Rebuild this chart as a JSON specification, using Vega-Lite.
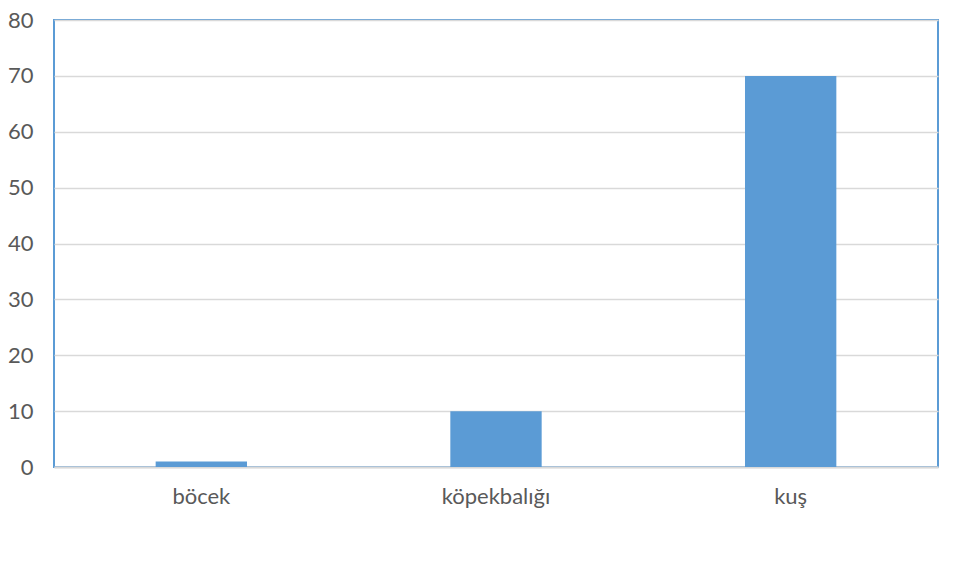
{
  "$schema": "https://vega.github.io/schema/vega-lite/v6.json",
  "width": 884,
  "height": 447,
  "autosize": "none",
  "padding": {"left": 54, "top": 20, "right": 37, "bottom": 107},
  "background": "white",
  "data": {"values": [
    {"hayvan": "böcek", "deger": 1},
    {"hayvan": "köpekbalığı", "deger": 10},
    {"hayvan": "kuş", "deger": 70}
  ]},
  "mark": {"type": "bar", "color": "#5B9BD5"},
  "encoding": {
    "x": {
      "field": "hayvan", "type": "nominal", "sort": null, "title": null,
      "scale": {"paddingInner": 0.69, "paddingOuter": 0.345},
      "axis": {"labelAngle": 0, "ticks": false, "domain": true, "domainColor": "#D9D9D9", "domainWidth": 2,
               "labelFont": "Lato", "labelFontSize": 22, "labelColor": "#595959", "labelPadding": 19}
    },
    "y": {
      "field": "deger", "type": "quantitative", "title": null,
      "scale": {"domain": [0, 80]},
      "axis": {"values": [0,10,20,30,40,50,60,70,80], "ticks": false, "domain": false,
               "gridColor": "#D9D9D9", "gridWidth": 1.3,
               "labelFont": "Lato", "labelFontSize": 22, "labelColor": "#595959", "labelPadding": 21}
    }
  },
  "config": {
    "view": {"stroke": "#5B9BD5", "strokeWidth": 2}
  }
}
